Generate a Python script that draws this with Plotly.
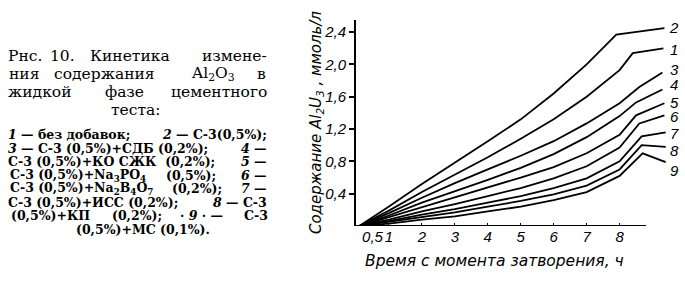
import plotly.graph_objects as go

# ---- data (time, h ; content, mmol/l) ----
t_c1 = [0.1, 1, 2, 3, 4, 5, 6, 7, 8, 8.4, 9.33]
v_c1 = [0.0, 0.19, 0.42, 0.63, 0.85, 1.08, 1.32, 1.60, 1.93, 2.14, 2.20]
t_c2 = [0.1, 1, 2, 3, 4, 5, 6, 7, 7.9, 9.36]
v_c2 = [0.0, 0.24, 0.52, 0.78, 1.05, 1.32, 1.64, 2.00, 2.37, 2.45]
t_c3 = [0.1, 1, 2, 3, 4, 5, 6, 7, 8, 8.6, 9.3]
v_c3 = [0.0, 0.16, 0.35, 0.53, 0.70, 0.87, 1.05, 1.27, 1.52, 1.72, 1.90]
t_c4 = [0.1, 1, 2, 3, 4, 5, 6, 7, 8, 8.5, 9.3]
v_c4 = [0.0, 0.13, 0.29, 0.43, 0.57, 0.72, 0.89, 1.10, 1.36, 1.53, 1.69]
t_c5 = [0.1, 1, 2, 3, 4, 5, 6, 7, 8, 8.5, 9.36]
v_c5 = [0.0, 0.11, 0.23, 0.35, 0.47, 0.60, 0.73, 0.90, 1.13, 1.37, 1.52]
t_c6 = [0.1, 1, 2, 3, 4, 5, 6, 7, 8, 8.6, 9.36]
v_c6 = [0.0, 0.08, 0.18, 0.27, 0.37, 0.47, 0.59, 0.74, 0.97, 1.27, 1.37]
t_c7 = [0.1, 1, 2, 3, 4, 5, 6, 7, 8, 8.67, 9.4]
v_c7 = [0.0, 0.06, 0.14, 0.21, 0.29, 0.37, 0.47, 0.59, 0.80, 1.11, 1.16]
t_c8 = [0.1, 1, 2, 3, 4, 5, 6, 7, 8, 8.67, 9.4]
v_c8 = [0.0, 0.05, 0.11, 0.17, 0.24, 0.31, 0.39, 0.50, 0.70, 1.00, 0.98]
t_c9 = [0.1, 1, 2, 3, 4, 5, 6, 7, 8, 8.7, 9.4]
v_c9 = [0.0, 0.03, 0.08, 0.12, 0.18, 0.24, 0.32, 0.42, 0.62, 0.90, 0.79]

curve_names = ["1", "2", "3", "4", "5", "6", "7", "8", "9"]
label_y = [2.19, 2.46, 1.94, 1.75, 1.53, 1.35, 1.15, 0.94, 0.69]

x_tickvals = [0.5, 1, 2, 3, 4, 5, 6, 7, 8]
x_ticktext = ["0,5", "1", "2", "3", "4", "5", "6", "7", "8"]
y_tickvals = [0.4, 0.8, 1.2, 1.6, 2.0, 2.4]
y_ticktext = ["0,4", "0,8", "1,2", "1,6", "2,0", "2,4"]

x_title = "Время с момента затворения, ч"
y_title = "Содержание Al<sub>2</sub>U<sub>3</sub> , ммоль/л"

W, H = 685, 293
ML, MR, MT, MB = 356, 15.5, 20, 67
PW, PH = W - ML - MR, H - MT - MB

def px(xp):
    return (xp - ML) / PW

def py(yp):
    return (H - MB - yp) / PH

ts = [t_c1, t_c2, t_c3, t_c4, t_c5, t_c6, t_c7, t_c8, t_c9]
vs = [v_c1, v_c2, v_c3, v_c4, v_c5, v_c6, v_c7, v_c8, v_c9]

fig = go.Figure()
for name, t, v in zip(curve_names, ts, vs):
    fig.add_trace(go.Scatter(x=t, y=v, mode="lines", name=name,
                             line=dict(color="black", width=1.8),
                             showlegend=False, hoverinfo="skip"))

ann = []
for name, ly in zip(curve_names, label_y):
    ann.append(dict(x=px(675), y=ly, xref="paper", yref="y", text=name, showarrow=False,
                    xanchor="center", yanchor="middle",
                    font=dict(family="Liberation Sans", size=15, color="black", style="italic")))

# axis titles
ann.append(dict(x=px(495), y=py(261), xref="paper", yref="paper", text=x_title,
                showarrow=False, xanchor="center", yanchor="middle",
                font=dict(family="DejaVu Sans", size=15.5, color="black", style="italic")))
ann.append(dict(x=px(316), y=py(123), xref="paper", yref="paper", text=y_title,
                showarrow=False, xanchor="center", yanchor="middle", textangle=-90,
                font=dict(family="DejaVu Sans", size=15, color="black", style="italic")))

# caption
serif = "DejaVu Serif"
TS, LS = 15.5, 12.5
cap = [
    # (text, x_px, anchor, y_px, size, bold)
    ("Рнс.", 5, "left", 56, TS, False),
    ("10.", 62, "center", 56, TS, False),
    ("Кинетика", 130, "center", 56, TS, False),
    ("измене-", 269, "right", 56, TS, False),
    ("ния", 6, "left", 74, TS, False),
    ("содержания", 104, "center", 74, TS, False),
    ("Al<sub>2</sub>O<sub>3</sub>", 213, "center", 74, TS, False),
    ("в", 268, "right", 74, TS, False),
    ("жидкой", 5, "left", 92, TS, False),
    ("фазе", 124, "center", 92, TS, False),
    ("цементного", 269, "right", 92, TS, False),
    ("теста:", 135, "center", 110, TS, False),
    ("<i>1</i> — без добавок;", 5, "left", 134, LS, True),
    ("<i>2</i> — С-3(0,5%);", 269, "right", 134, LS, True),
    ("<i>3</i> — С-3 (0,5%)+СДБ (0,2%);", 5, "left", 148, LS, True),
    ("<i>4</i> —", 269, "right", 148, LS, True),
    ("С-3 (0,5%)+КО СЖК  (0,2%);", 5, "left", 161.5, LS, True),
    ("<i>5</i> —", 269, "right", 161.5, LS, True),
    ("С-3 (0,5%)+Na<sub>3</sub>PO<sub>4</sub>", 7, "left", 175, LS, True),
    ("(0,5%);", 191, "center", 175, LS, True),
    ("<i>6</i> —", 269, "right", 175, LS, True),
    ("С-3 (0,5%)+Na<sub>2</sub>B<sub>4</sub>O<sub>7</sub>", 7, "left", 188.5, LS, True),
    ("(0,2%);", 197, "center", 188.5, LS, True),
    ("<i>7</i> —", 269, "right", 188.5, LS, True),
    ("С-3 (0,5%)+ИСС (0,2%);", 5, "left", 202, LS, True),
    ("<i>8</i> — С-3", 269, "right", 202, LS, True),
    ("(0,5%)+КП", 8, "left", 215.5, LS, True),
    ("(0,2%);", 137, "center", 215.5, LS, True),
    ("· <i>9</i> · —", 201, "center", 215.5, LS, True),
    ("С-3", 270, "right", 215.5, LS, True),
    ("(0,5%)+МС (0,1%).", 143, "center", 229.5, LS, True),
]
for text, xp, anc, yp, size, bold in cap:
    txt = f"<b>{text}</b>" if bold else text
    ann.append(dict(x=px(xp), y=py(yp), xref="paper", yref="paper", text=txt,
                    showarrow=False, xanchor=anc, yanchor="middle",
                    font=dict(family=serif, size=size, color="black")))

fig.update_layout(
    width=W, height=H,
    margin=dict(l=ML, r=MR, t=MT, b=MB, pad=0),
    paper_bgcolor="white", plot_bgcolor="white",
    annotations=ann,
    shapes=[dict(type="line", xref="x", yref="y", x0=0, x1=8.8, y0=0, y1=0,
                 line=dict(color="black", width=2))],
)
fig.update_xaxes(range=[0, 9.5], showgrid=False, zeroline=False, showline=False,
                 tickmode="array", tickvals=x_tickvals, ticktext=x_ticktext,
                 tickangle=0, ticks="inside", ticklen=3, tickcolor="black", tickwidth=1,
                 tickfont=dict(family="Liberation Sans", size=15, color="black", style="italic"))
fig.update_yaxes(range=[0, 2.55], showgrid=False, zeroline=False, showline=True,
                 linecolor="black", linewidth=2,
                 tickmode="array", tickvals=y_tickvals, ticktext=y_ticktext,
                 ticks="outside", ticklen=5, tickcolor="black", tickwidth=1.5,
                 tickfont=dict(family="Liberation Sans", size=15, color="black", style="italic"))

fig.write_html("out.html")
